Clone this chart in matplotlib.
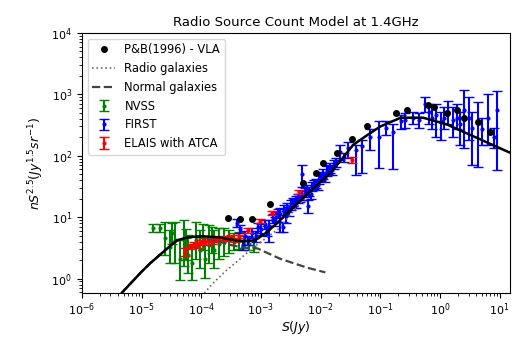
import numpy as np
from matplotlib import pyplot as plt

plt.rcParams['font.size'] = 8

# model curves
mod_S = [4.7e-6, 1.0e-5, 1.4e-5, 2.5e-5, 3.9e-5, 6e-5, 1e-4, 2e-4, 3.2e-4, 5e-4, 8e-4,
         1.2e-3, 2e-3, 3e-3, 5e-3, 8e-3, 1.45e-2, 2.2e-2, 3.5e-2, 5.5e-2, 0.1, 0.22,
         0.52, 1.3, 3.2, 13.5, 15]
mod_tot = [0.59, 1.29, 1.78, 2.9, 4.2, 4.7, 4.9, 4.7, 4.3, 4.0, 4.2,
           5.5, 8.5, 12.6, 20, 31, 52, 85, 150, 204, 300, 417,
           417, 324, 219, 117, 112]

norm_S = [4.7e-6, 1.0e-5, 1.4e-5, 2.5e-5, 3.9e-5, 6e-5, 1e-4, 2e-4, 3.2e-4, 5e-4,
          8.7e-4, 2.1e-3, 6e-3, 1.2e-2]
norm_y = [0.59, 1.29, 1.78, 2.9, 4.1, 4.6, 4.7, 4.0, 3.5, 3.2,
          3.1, 2.1, 1.5, 1.26]

radio_S = [9e-5, 1.5e-4, 2.5e-4, 4e-4, 7.4e-4, 1.2e-3, 2e-3, 3e-3, 5e-3, 8e-3,
           1.45e-2, 3.5e-2, 0.1, 0.22, 0.52, 1.3, 3.2, 13.5]
radio_y = [0.45, 0.8, 1.3, 1.9, 3.2, 4.5, 6.5, 10.5, 18.5, 30,
           51, 150, 300, 417, 417, 324, 219, 117]

# P&B(1996) - VLA
pb_S = [2.8e-4, 4.5e-4, 7.1e-4, 1.4e-3, 5.1e-3, 8.5e-3, 1.1e-2, 1.9e-2, 3.4e-2, 5.9e-2,
        0.18, 0.28, 0.62, 0.78, 1.29, 1.95, 2.57, 4.3, 6.8]
pb_y = [9.6, 9.3, 9.3, 16.3, 36, 53, 77, 112, 190, 300,
        500, 550, 660, 615, 500, 550, 420, 360, 240]

# NVSS
nv_S = [1.55e-5, 2.04e-5, 2.47e-5, 3.0e-5, 3.63e-5, 4.4e-5, 5.1e-5, 6.0e-5, 7.0e-5, 8.2e-5,
        9.5e-5, 1.15e-4, 1.35e-4, 1.64e-4, 2.0e-4, 2.4e-4, 2.9e-4, 3.55e-4, 4.3e-4, 5.2e-4,
        6.3e-4, 7.7e-4, 3.3e-5, 5.6e-5, 1.05e-4, 1.5e-4]
nv_y = [6.6, 6.6, 4.5, 3.3, 4.2, 2.1, 4.2, 2.4, 1.8, 4.2,
        2.9, 2.1, 3.5, 2.9, 3.6, 3.9, 4.2, 3.9, 4.2, 3.7,
        3.6, 3.3, 5.5, 3.6, 4.8, 4.4]
nv_lo = [5.7, 5.7, 2.4, 1.8, 1.8, 0.93, 1.6, 1.25, 0.93, 2.1,
         1.46, 1.04, 1.8, 1.46, 2.1, 2.3, 2.6, 2.9, 3.0, 3.1,
         2.9, 2.7, 3.6, 2.0, 2.9, 2.6]
nv_hi = [7.7, 7.7, 8.3, 6.1, 8.3, 4.2, 8.9, 5.1, 3.5, 8.3,
         6.1, 4.5, 7.4, 6.1, 6.6, 6.6, 6.1, 5.5, 5.7, 4.9,
         4.7, 4.5, 8.0, 6.4, 7.6, 7.0]

# FIRST
fi_S = [4.0e-4, 4.5e-4, 5.0e-4, 6.0e-4, 7.1e-4, 8.3e-4, 1.0e-3, 1.17e-3, 1.35e-3, 1.58e-3,
        1.82e-3, 2.09e-3, 2.3e-3, 2.4e-3, 2.75e-3, 3.16e-3, 3.63e-3, 4.17e-3, 4.79e-3, 4.9e-3,
        5.5e-3, 6.2e-3, 6.31e-3, 7.24e-3, 8.32e-3, 9.55e-3, 1.1e-2, 1.26e-2, 1.45e-2, 1.66e-2,
        0.0214, 0.0288, 0.0398, 0.0501, 0.0676, 0.0955, 0.126, 0.166, 0.219, 0.263,
        0.347, 0.437, 0.55, 0.646, 0.741, 0.871, 1.02, 1.17, 1.38, 1.62,
        1.91, 2.19, 2.57, 3.02, 3.47, 4.27, 5.13, 6.31, 7.94, 9.12,
        5.5e-4, 9.1e-4, 1.25e-3, 1.7e-3, 1.95e-3, 2.6e-3, 2.95e-3, 3.4e-3, 3.9e-3, 4.5e-3,
        5.8e-3, 6.8e-3, 7.8e-3, 8.9e-3, 1.03e-2, 1.18e-2, 1.35e-2, 1.55e-2, 1.8e-2, 2.5e-2]
fi_y = [8.0, 6.5, 3.5, 4.2, 5.6, 5.0, 6.3, 7.6, 7.1, 9.5,
        10, 11.2, 7.0, 13.2, 14.1, 15.8, 16.6, 20, 22.4, 50,
        25, 15, 26.3, 31.6, 35.5, 41.7, 50, 56, 63, 72,
        117, 135, 126, 145, 200, 200, 288, 245, 363, 389,
        417, 389, 692, 525, 417, 468, 363, 417, 525, 389,
        417, 324, 562, 417, 288, 363, 269, 417, 200, 562,
        5.0, 6.8, 6.0, 8.5, 11.5, 10.5, 12.5, 17.5, 18.5, 20.5,
        28, 24, 34, 33, 46, 44, 60, 58, 78, 95]
fi_lo = [6.8, 5.5, 2.9, 3.5, 4.6, 4.0, 5.2, 6.3, 4.0, 8.0,
         8.5, 5.7, 5.7, 11, 12, 13, 14, 17, 19, 31,
         21, 11.6, 22, 27, 30, 35, 42, 47, 53, 60,
         85, 93, 49, 52, 126, 63, 214, 62, 269, 288,
         324, 288, 525, 331, 269, 200, 182, 269, 324, 200,
         269, 151, 135, 182, 71, 66, 151, 151, 135, 59,
         4.2, 5.6, 5.0, 7.2, 9.8, 8.0, 10.6, 15, 14, 17.5,
         24, 20, 29, 28, 39, 37, 51, 49, 66, 80]
fi_hi = [9.2, 7.5, 4.2, 5.0, 6.6, 6.0, 7.6, 9.0, 9.0, 11.2,
         12, 14, 8.3, 15.5, 17, 19, 20, 24, 27, 71,
         30, 19, 31, 37, 42, 50, 60, 67, 75, 86,
         151, 170, 151, 182, 269, 363, 363, 324, 468, 501,
         525, 501, 890, 708, 617, 692, 525, 617, 776, 617,
         692, 525, 1200, 890, 525, 741, 417, 1000, 288, 1120,
         5.9, 8.0, 7.1, 10, 13.5, 12.5, 14.5, 20.5, 22, 24,
         33, 28, 40, 39, 54, 52, 70, 68, 92, 112]

# ELAIS with ATCA
el_S = [5.4e-5, 6.5e-5, 7.5e-5, 8.7e-5, 1.0e-4, 1.15e-4, 1.3e-4, 1.5e-4, 1.75e-4, 2.0e-4,
        2.3e-4, 2.7e-4, 3.2e-4, 3.7e-4, 4.3e-4, 6.0e-4, 9.8e-4, 1.55e-3, 4.4e-3, 3.4e-2]
el_y = [2.7, 3.3, 3.6, 3.5, 3.9, 3.8, 4.2, 4.0, 4.4, 4.2,
        4.6, 4.4, 4.8, 4.3, 4.9, 6.1, 8.6, 11.6, 25.7, 86]
el_lo = [2.3, 3.0, 3.3, 3.2, 3.6, 3.5, 3.9, 3.7, 4.1, 3.9,
         4.3, 4.1, 4.5, 4.0, 4.6, 5.6, 7.9, 10.7, 23.6, 77]
el_hi = [3.2, 3.6, 3.9, 3.8, 4.2, 4.1, 4.5, 4.3, 4.7, 4.5,
         4.9, 4.7, 5.1, 4.6, 5.2, 6.6, 9.3, 12.5, 27.8, 95]


def err(y, lo, hi):
    y = np.array(y)
    return [y - np.array(lo), np.array(hi) - y]


fig = plt.figure(figsize=(5.18, 3.40), dpi=100)
ax = fig.add_axes([0.158, 0.138, 0.827, 0.765])

hpb, = ax.plot(pb_S, pb_y, 'ko', ms=4, label='P&B(1996) - VLA', zorder=7)
hr, = ax.plot(radio_S, radio_y, ':', color='dimgrey', lw=1.2, label='Radio galaxies', zorder=5)
hn, = ax.plot(norm_S, norm_y, '--', color='#444444', lw=1.6, label='Normal galaxies', zorder=5)
ax.plot(mod_S, mod_tot, '-', color='k', lw=1.8, zorder=5)

hnv = ax.errorbar(nv_S, nv_y, yerr=err(nv_y, nv_lo, nv_hi), fmt='.', color='green',
                  ms=4, capsize=3.5, elinewidth=1.5, label='NVSS', zorder=2)
hfi = ax.errorbar(fi_S, fi_y, yerr=err(fi_y, fi_lo, fi_hi), fmt='.', color='blue',
                  ms=4, capsize=3.5, elinewidth=1.5, label='FIRST', zorder=3)
hel = ax.errorbar(el_S, el_y, yerr=err(el_y, el_lo, el_hi), fmt='.', color='red',
                  ms=4, capsize=3.5, elinewidth=1.5, label='ELAIS with ATCA', zorder=4)

ax.set_xscale('log')
ax.set_yscale('log')
ax.set_xlim(1e-6, 15)
ax.set_ylim(0.58, 1e4)
ax.tick_params(axis='x', pad=2.5)
ax.set_title('Radio Source Count Model at 1.4GHz', fontsize=9.5, pad=5)
ax.set_xlabel(r'$S(Jy)$', fontsize=9, labelpad=1)
ax.set_ylabel(r'$nS^{2.5}(Jy^{1.5}sr^{-1})$', fontsize=9)
ax.legend(handles=[hpb, hr, hn, hnv, hfi, hel], loc='upper left', fontsize=8.3)

plt.savefig('out.png', dpi=100)
